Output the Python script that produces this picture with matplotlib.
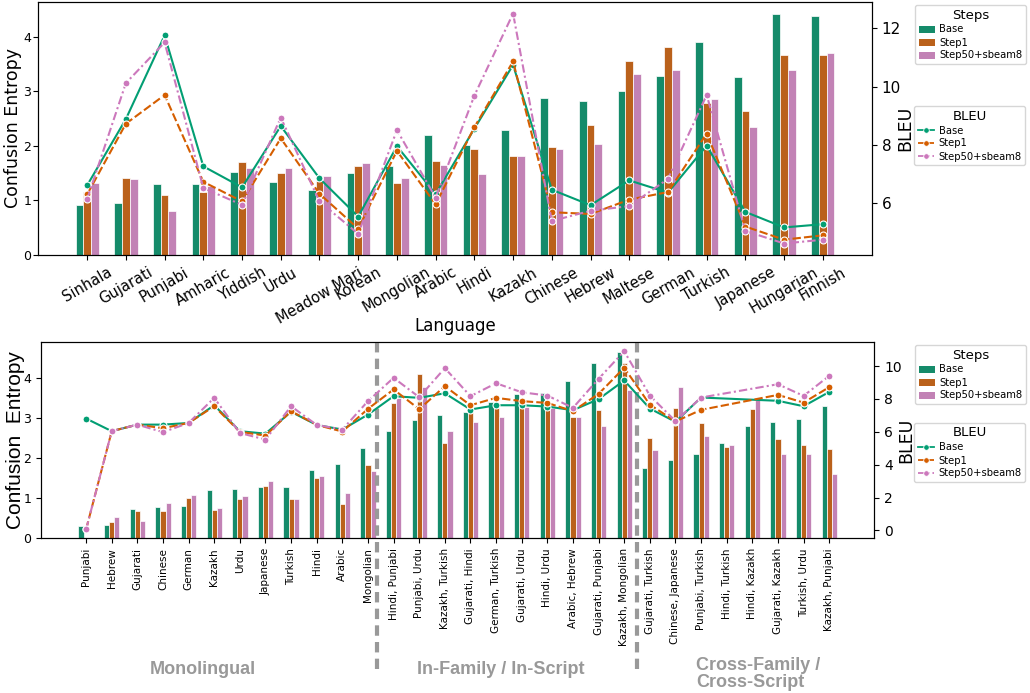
import colorsys
import numpy as np
import matplotlib
matplotlib.use("Agg")
import matplotlib.pyplot as plt
import matplotlib.colors as mcolors
from matplotlib.patches import Patch
from matplotlib.lines import Line2D

# ---- single-language results ----
langs = ["Sinhala", "Gujarati", "Punjabi", "Amharic", "Yiddish", "Urdu", "Meadow Mari",
         "Korean", "Mongolian", "Arabic", "Hindi", "Kazakh", "Chinese", "Hebrew",
         "Maltese", "German", "Turkish", "Japanese", "Hungarian", "Finnish"]
ent_base = [0.92, 0.95, 1.30, 1.30, 1.52, 1.34, 1.19, 1.50, 1.63, 2.20,
            2.02, 2.29, 2.88, 2.83, 3.01, 3.28, 3.91, 3.27, 4.42, 4.39]
ent_step1 = [1.16, 1.41, 1.10, 1.16, 1.71, 1.50, 1.36, 1.63, 1.32, 1.72,
             1.94, 1.82, 1.98, 2.39, 3.56, 3.82, 2.79, 2.64, 3.67, 3.67]
ent_s50 = [1.32, 1.39, 0.81, 1.27, 1.60, 1.60, 1.45, 1.69, 1.41, 1.65,
           1.49, 1.82, 1.94, 2.04, 3.32, 3.39, 2.86, 2.35, 3.39, 3.71]
bleu_base = [6.62, 8.89, 11.75, 7.27, 6.55, 8.65, 6.86, 5.55, 7.96, 6.32,
             8.56, 10.74, 6.47, 5.94, 6.79, 6.37, 7.98, 5.71, 5.18, 5.29]
bleu_step1 = [6.31, 8.73, 9.71, 6.74, 6.07, 8.23, 6.33, 5.14, 7.80, 5.97,
              8.61, 10.86, 5.70, 5.64, 6.13, 6.39, 8.39, 5.21, 4.76, 4.91]
bleu_s50 = [6.15, 10.12, 11.51, 6.53, 5.95, 8.94, 6.07, 4.96, 8.51, 6.20,
            9.69, 12.50, 5.40, 5.75, 5.91, 6.84, 9.71, 5.06, 4.63, 4.76]

# ---- language-pair results ----
pairs = ["Punjabi", "Hebrew", "Gujarati", "Chinese", "German", "Kazakh", "Urdu",
         "Japanese", "Turkish", "Hindi", "Arabic", "Mongolian",
         "Hindi, Punjabi", "Punjabi, Urdu", "Kazakh, Turkish", "Gujarati, Hindi",
         "German, Turkish", "Gujarati, Urdu", "Hindi, Urdu", "Arabic, Hebrew",
         "Gujarati, Punjabi", "Kazakh, Mongolian",
         "Gujarati, Turkish", "Chinese, Japanese", "Punjabi, Turkish", "Hindi, Turkish",
         "Hindi, Kazakh", "Gujarati, Kazakh", "Turkish, Urdu", "Kazakh, Punjabi"]
p_ent_base = [0.31, 0.33, 0.74, 0.78, 0.80, 1.20, 1.23, 1.28, 1.28, 1.70, 1.85, 2.25,
              2.67, 2.95, 3.07, 3.15, 3.39, 3.59, 3.62, 3.93, 4.37, 4.65,
              1.75, 1.95, 2.10, 2.37, 2.80, 2.90, 2.97, 3.29]
p_ent_step1 = [0.0, 0.41, 0.68, 0.68, 1.00, 0.71, 0.98, 1.30, 0.98, 1.50, 0.85, 1.83,
               3.37, 4.09, 2.37, 3.25, 3.24, 3.40, 3.36, 3.02, 3.20, 4.37,
               2.49, 3.24, 2.87, 2.27, 3.22, 2.47, 2.32, 2.22]
p_ent_s50 = [0.0, 0.53, 0.44, 0.88, 1.08, 0.76, 1.05, 1.43, 0.98, 1.55, 1.13, 1.68,
             3.49, 3.77, 2.67, 2.90, 3.02, 3.28, 3.24, 3.02, 2.80, 3.69,
             2.20, 3.77, 2.55, 2.32, 3.44, 2.10, 2.10, 1.60]
nan = np.nan
p_bleu_base = [6.81, 6.04, 6.44, 6.44, 6.54, 7.62, 6.04, 5.89, 7.22, 6.42, 6.14, 7.05,
               8.17, 8.07, 8.35, 7.36, 7.62, 7.62, 7.54, 7.32, 7.99, 9.13,
               7.42, 6.61, 8.09, nan, nan, 7.89, 7.56, 8.43]
p_bleu_step1 = [0.06, 6.04, 6.44, 6.22, 6.54, 7.56, 6.00, 5.77, 7.26, 6.42, 6.02, 7.40,
                8.58, 7.38, 8.78, 7.62, 8.07, 7.87, 7.76, 7.26, 8.31, 9.90,
                7.66, 6.63, 7.34, nan, nan, 8.25, 7.78, 8.72]
p_bleu_s50 = [0.06, 6.04, 6.44, 5.98, 6.54, 8.07, 5.93, 5.53, 7.56, 6.42, 6.14, 7.87,
              9.29, 8.11, 9.88, 8.17, 8.96, 8.41, 8.21, 7.46, 9.23, 10.91,
              8.21, 6.65, 8.09, nan, nan, 8.90, 8.19, 9.41]

steps = ["Base", "Step1", "Step50+sbeam8"]
line_colors = ["#029e73", "#d55e00", "#cc78bc"]
dashes = [(None, None), (4, 1.5), (4, 1.5, 1, 1.5)]


def desaturate(c, prop=0.75):
    h, l, s = colorsys.rgb_to_hls(*mcolors.to_rgb(c))
    return colorsys.hls_to_rgb(h, l, s * prop)


bar_colors = [desaturate(c) for c in line_colors]


def draw_panel(ax, labels, ents, bleus):
    x = np.arange(len(labels))
    for i, vals in enumerate(ents):
        ax.bar(x + (i - 1) * 0.2, vals, width=0.2, color=bar_colors[i],
               edgecolor="white", linewidth=0.5)
    ax2 = ax.twinx()
    for i, vals in enumerate(bleus):
        v = np.array(vals, dtype=float)
        ok = ~np.isnan(v)
        ln, = ax2.plot(x[ok], v[ok], color=line_colors[i], lw=1.5, marker="o",
                       markersize=5, markeredgecolor="white", markeredgewidth=0.8)
        if dashes[i][0] is not None:
            ln.set_dashes(dashes[i])
    return ax2


def legend_handles():
    h1 = [Patch(facecolor=c, label=s) for c, s in zip(bar_colors, steps)]
    h2 = []
    for i, s in enumerate(steps):
        ln = Line2D([], [], color=line_colors[i], lw=1.3, marker="o", markersize=4,
                    markeredgecolor="white", markeredgewidth=0.6, label=s)
        if dashes[i][0] is not None:
            ln.set_dashes(dashes[i])
        h2.append(ln)
    return h1, h2


fig = plt.figure(figsize=(10.3, 6.93), dpi=100)

# top: per-language chart
ax1 = fig.add_axes([38 / 1030, 1 - 255 / 693, 834 / 1030, 253 / 693])
ax1r = draw_panel(ax1, langs, [ent_base, ent_step1, ent_s50],
                  [bleu_base, bleu_step1, bleu_s50])
ax1.set_xlim(-1.27, 20.27)
ax1.set_xticks(np.arange(len(langs)))
ax1.set_xticklabels(langs, rotation=30, fontsize=10.5)
ax1.set_yticks([0, 1, 2, 3, 4])
ax1.tick_params(axis="y", labelsize=9, pad=1.5)
ax1.set_ylabel("Confusion Entropy", fontsize=12.5)
ax1.yaxis.set_label_coords(-0.019, 0.5)
ax1.set_xlabel("Language", fontsize=12)
ax1.xaxis.set_label_coords(0.5, -0.245)
ax1r.set_yticks([6, 8, 10, 12])
ax1r.tick_params(axis="y", labelsize=11)
ax1r.set_ylabel("BLEU", fontsize=12.5)
ax1r.yaxis.set_label_coords(1.029, 0.5)

# bottom: language pairs grouped by relation
ax2 = fig.add_axes([41 / 1030, 1 - 538.3 / 693, 833.3 / 1030, 196 / 693])
ax2r = draw_panel(ax2, pairs, [p_ent_base, p_ent_step1, p_ent_s50],
                  [p_bleu_base, p_bleu_step1, p_bleu_s50])
ax2.set_xlim(-1.76, 30.76)
ax2.set_xticks(np.arange(len(pairs)))
ax2.set_xticklabels(pairs, rotation=90, fontsize=7.5)
ax2.set_yticks([0, 1, 2, 3, 4])
ax2.tick_params(axis="y", labelsize=9)
ax2.set_ylabel("Confusion  Entropy", fontsize=15, family="Liberation Sans")
ax2.yaxis.set_label_coords(-0.019, 0.5)
ax2r.set_yticks([0, 2, 4, 6, 8, 10])
ax2r.tick_params(axis="y", labelsize=10)
ax2r.set_ylabel("BLEU", fontsize=12.5)
ax2r.yaxis.set_label_coords(1.028, 0.5)

for xs in [11.35, 21.5]:
    ax2.plot([xs, xs], [1.0, -0.665], transform=ax2.get_xaxis_transform(),
             color="#999999", lw=3, ls=(0, (2.5, 1.5)), clip_on=False, zorder=5)

grp = dict(color="#999999", fontsize=13, fontweight="bold", family="Liberation Sans")
fig.text(203 / 1030, 1 - 669 / 693, "Monolingual", ha="center", va="center", **grp)
fig.text(501 / 1030, 1 - 669 / 693, "In-Family / In-Script", ha="center", va="center", **grp)
fig.text(696 / 1030, 1 - 674 / 693, "Cross-Family /\nCross-Script", ha="left", va="center",
         linespacing=1.0, **grp)

leg_kw = dict(loc="upper left", fontsize=7.2, title_fontsize=9.5, borderaxespad=0,
              handlelength=1.6, handletextpad=0.5, labelspacing=0.3, borderpad=0.35)
for y1, y2 in [(5, 106), (345, 423)]:
    h1, h2 = legend_handles()
    fig.legend(handles=h1, title="Steps", bbox_to_anchor=(915 / 1030, 1 - y1 / 693), **leg_kw)
    fig.legend(handles=h2, title="BLEU", bbox_to_anchor=(914 / 1030, 1 - y2 / 693), **leg_kw)

fig.savefig("out.png", dpi=100)
